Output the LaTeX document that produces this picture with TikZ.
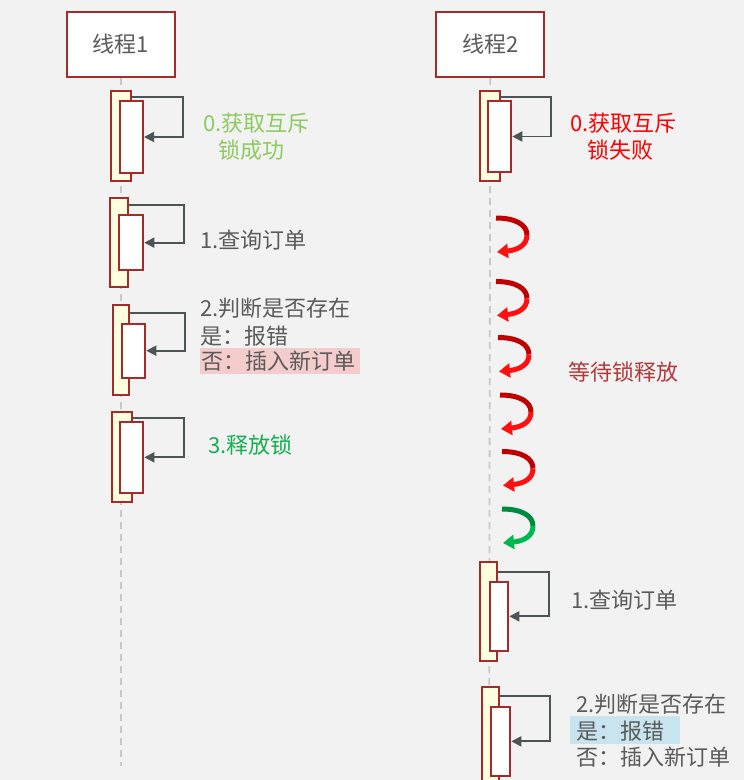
\documentclass[tikz,border=0pt]{standalone}
\usepackage{fontspec}
\setmainfont{Noto Sans CJK SC}
\usetikzlibrary{arrows.meta}
\definecolor{bg}{HTML}{F2F2F2}
\definecolor{boxred}{HTML}{A52A2A}
\definecolor{actyel}{HTML}{FFFFE0}
\definecolor{arrgray}{HTML}{4D5456}
\definecolor{txtgray}{HTML}{5A5A5A}
\definecolor{greenA}{HTML}{8CCB5E}
\definecolor{greenB}{HTML}{12B04E}
\definecolor{redA}{HTML}{FF0000}
\definecolor{darkredA}{HTML}{B03A3A}
\definecolor{pinkhl}{HTML}{F4CCCC}
\definecolor{bluehl}{HTML}{C7E4EF}
\definecolor{lifegray}{HTML}{C8C8C8}
\definecolor{wdark}{HTML}{C00000}
\definecolor{wlight}{HTML}{FF1010}
\definecolor{gdark}{HTML}{008A3E}
\definecolor{glight}{HTML}{00B850}
\newcommand\waitarrow[4]{%
  \begin{scope}[shift={(#1,#2)}]
    \draw[line width=5pt,#3] (0,0) .. controls (20,0) and (31,7) .. (31,17);
    \draw[line width=5pt,#4,-{Triangle[length=11pt,width=14pt]}] (31,17) .. controls (31,27) and (22,32) .. (1,34);
  \end{scope}}
\begin{document}
\begin{tikzpicture}[x=1pt,y=-1pt,
  head/.style={draw=boxred,line width=2pt,fill=white,minimum width=108pt,minimum height=65pt,inner sep=0pt,font=\fontsize{22}{26}\selectfont,text=txtgray},
  outer/.style={draw=boxred,line width=2pt,fill=actyel,inner sep=0pt,anchor=north west},
  inner/.style={draw=boxred,line width=2pt,fill=white,inner sep=0pt,anchor=north west},
  msg/.style={draw=arrgray,line width=1.8pt,-{Triangle[length=10pt,width=10pt]}},
  lbl/.style={font=\fontsize{22}{27}\selectfont,inner sep=0pt,text height=19pt,text depth=2pt,anchor=west,text=txtgray},
  hl/.style={inner sep=0pt,anchor=north west,draw=none},
  life/.style={draw=lifegray,line width=1.8pt,dash pattern=on 7pt off 5pt}]
\useasboundingbox (0,0) rectangle (744,780);
\fill[bg] (0,0) rectangle (744,780);

% headers
\node[head] (h1) at (121,44.5) {线程1};
\node[head] (h2) at (490.3,44.5) {线程2};
\coordinate (e1) at (121,766);
\coordinate (e2) at (489,780);
\draw[life] (h1.south) -- (e1);
\draw[life] (h2.south) -- (e2);

% thread 1 activations
\node[outer,minimum width=20pt,minimum height=90pt] (a0o) at (110,90) {};
\node[inner,minimum width=23.3pt,minimum height=72pt] (a0i) at (118.7,100) {};
\draw[msg] ([yshift=-7pt]a0o.north east) -- ++(51,0) |- (a0i.east);

\node[outer,minimum width=18pt,minimum height=89.3pt] (a1o) at (109.3,196.7) {};
\node[inner,minimum width=24pt,minimum height=54.7pt] (a1i) at (118.3,214.3) {};
\draw[msg] ([yshift=-8.3pt]a1o.north east) -- ++(54.4,0) |- (a1i.east);

\node[outer,minimum width=16.6pt,minimum height=89.7pt] (a2o) at (111.7,304.3) {};
\node[inner,minimum width=23.6pt,minimum height=54pt] (a2i) at (120.7,322.7) {};
\draw[msg] ([yshift=-9pt]a2o.north east) -- ++(54.4,0) |- (a2i.east);

\node[outer,minimum width=20.3pt,minimum height=90pt] (a3o) at (110.7,410.7) {};
\node[inner,minimum width=23pt,minimum height=70.7pt] (a3i) at (119.3,421) {};
\draw[msg] ([yshift=-7.6pt]a3o.north east) -- ++(50.7,0) |- (a3i.east);

% thread 2 activations
\node[outer,minimum width=20.3pt,minimum height=90pt] (b0o) at (478.7,90) {};
\node[inner,minimum width=23pt,minimum height=71pt] (b0i) at (487.3,100) {};
\draw[msg] ([yshift=-7pt]b0o.north east) -- ++(50.3,0) |- (b0i.east);

\node[outer,minimum width=16.4pt,minimum height=99.3pt] (b1o) at (479.3,560.7) {};
\node[inner,minimum width=18.6pt,minimum height=69.3pt] (b1i) at (488.7,580.7) {};
\draw[msg] ([yshift=-11pt]b1o.north east) -- ++(51.6,0) |- (b1i.east);

\node[outer,minimum width=17.6pt,minimum height=110pt] (b2o) at (480.7,685.7) {};
\node[inner,minimum width=19.3pt,minimum height=69.3pt] (b2i) at (490,705.7) {};
\draw[msg] ([yshift=-10pt]b2o.north east) -- ++(49.7,0) |- (b2i.east);

% thread 1 labels
\node[lbl,text=greenA] (t0a) at (203,123) {0.获取互斥};
\node[lbl,text=greenA] (t0b) at (218,150) {锁成功};
\node[lbl] (t1) at (200,240) {1.查询订单};
\node[lbl] (t2a) at (200,308) {2.判断是否存在};
\node[lbl] (t2b) at (200,335.5) {是：报错};
\node[hl,fill=pinkhl,minimum width=160pt,minimum height=25.3pt] (p1) at (200,348) {};
\node[lbl] (t2c) at (201.5,361) {否：插入新订单};
\node[lbl,text=greenB] (t3) at (208,445) {3.释放锁};

% thread 2 labels
\node[lbl,text=redA] (u0a) at (570,123) {0.获取互斥};
\node[lbl,text=redA] (u0b) at (587,150) {锁失败};
\node[lbl,text=darkredA] (uw) at (568,372) {等待锁释放};
\node[lbl] (u1) at (571,600) {1.查询订单};
\node[lbl] (u2a) at (576,704) {2.判断是否存在};
\node[hl,fill=bluehl,minimum width=110pt,minimum height=28.3pt] (p2) at (570,715.7) {};
\node[lbl] (u2b) at (576.7,731) {是：报错};
\node[lbl] (u2c) at (576,757) {否：插入新订单};

% waiting arrows
\waitarrow{496}{218}{wdark}{wlight}
\waitarrow{496}{281.5}{wdark}{wlight}
\waitarrow{498}{337.5}{wdark}{wlight}
\waitarrow{500}{395}{wdark}{wlight}
\waitarrow{502}{451.5}{wdark}{wlight}
\waitarrow{502}{509}{gdark}{glight}
\end{tikzpicture}
\end{document}
